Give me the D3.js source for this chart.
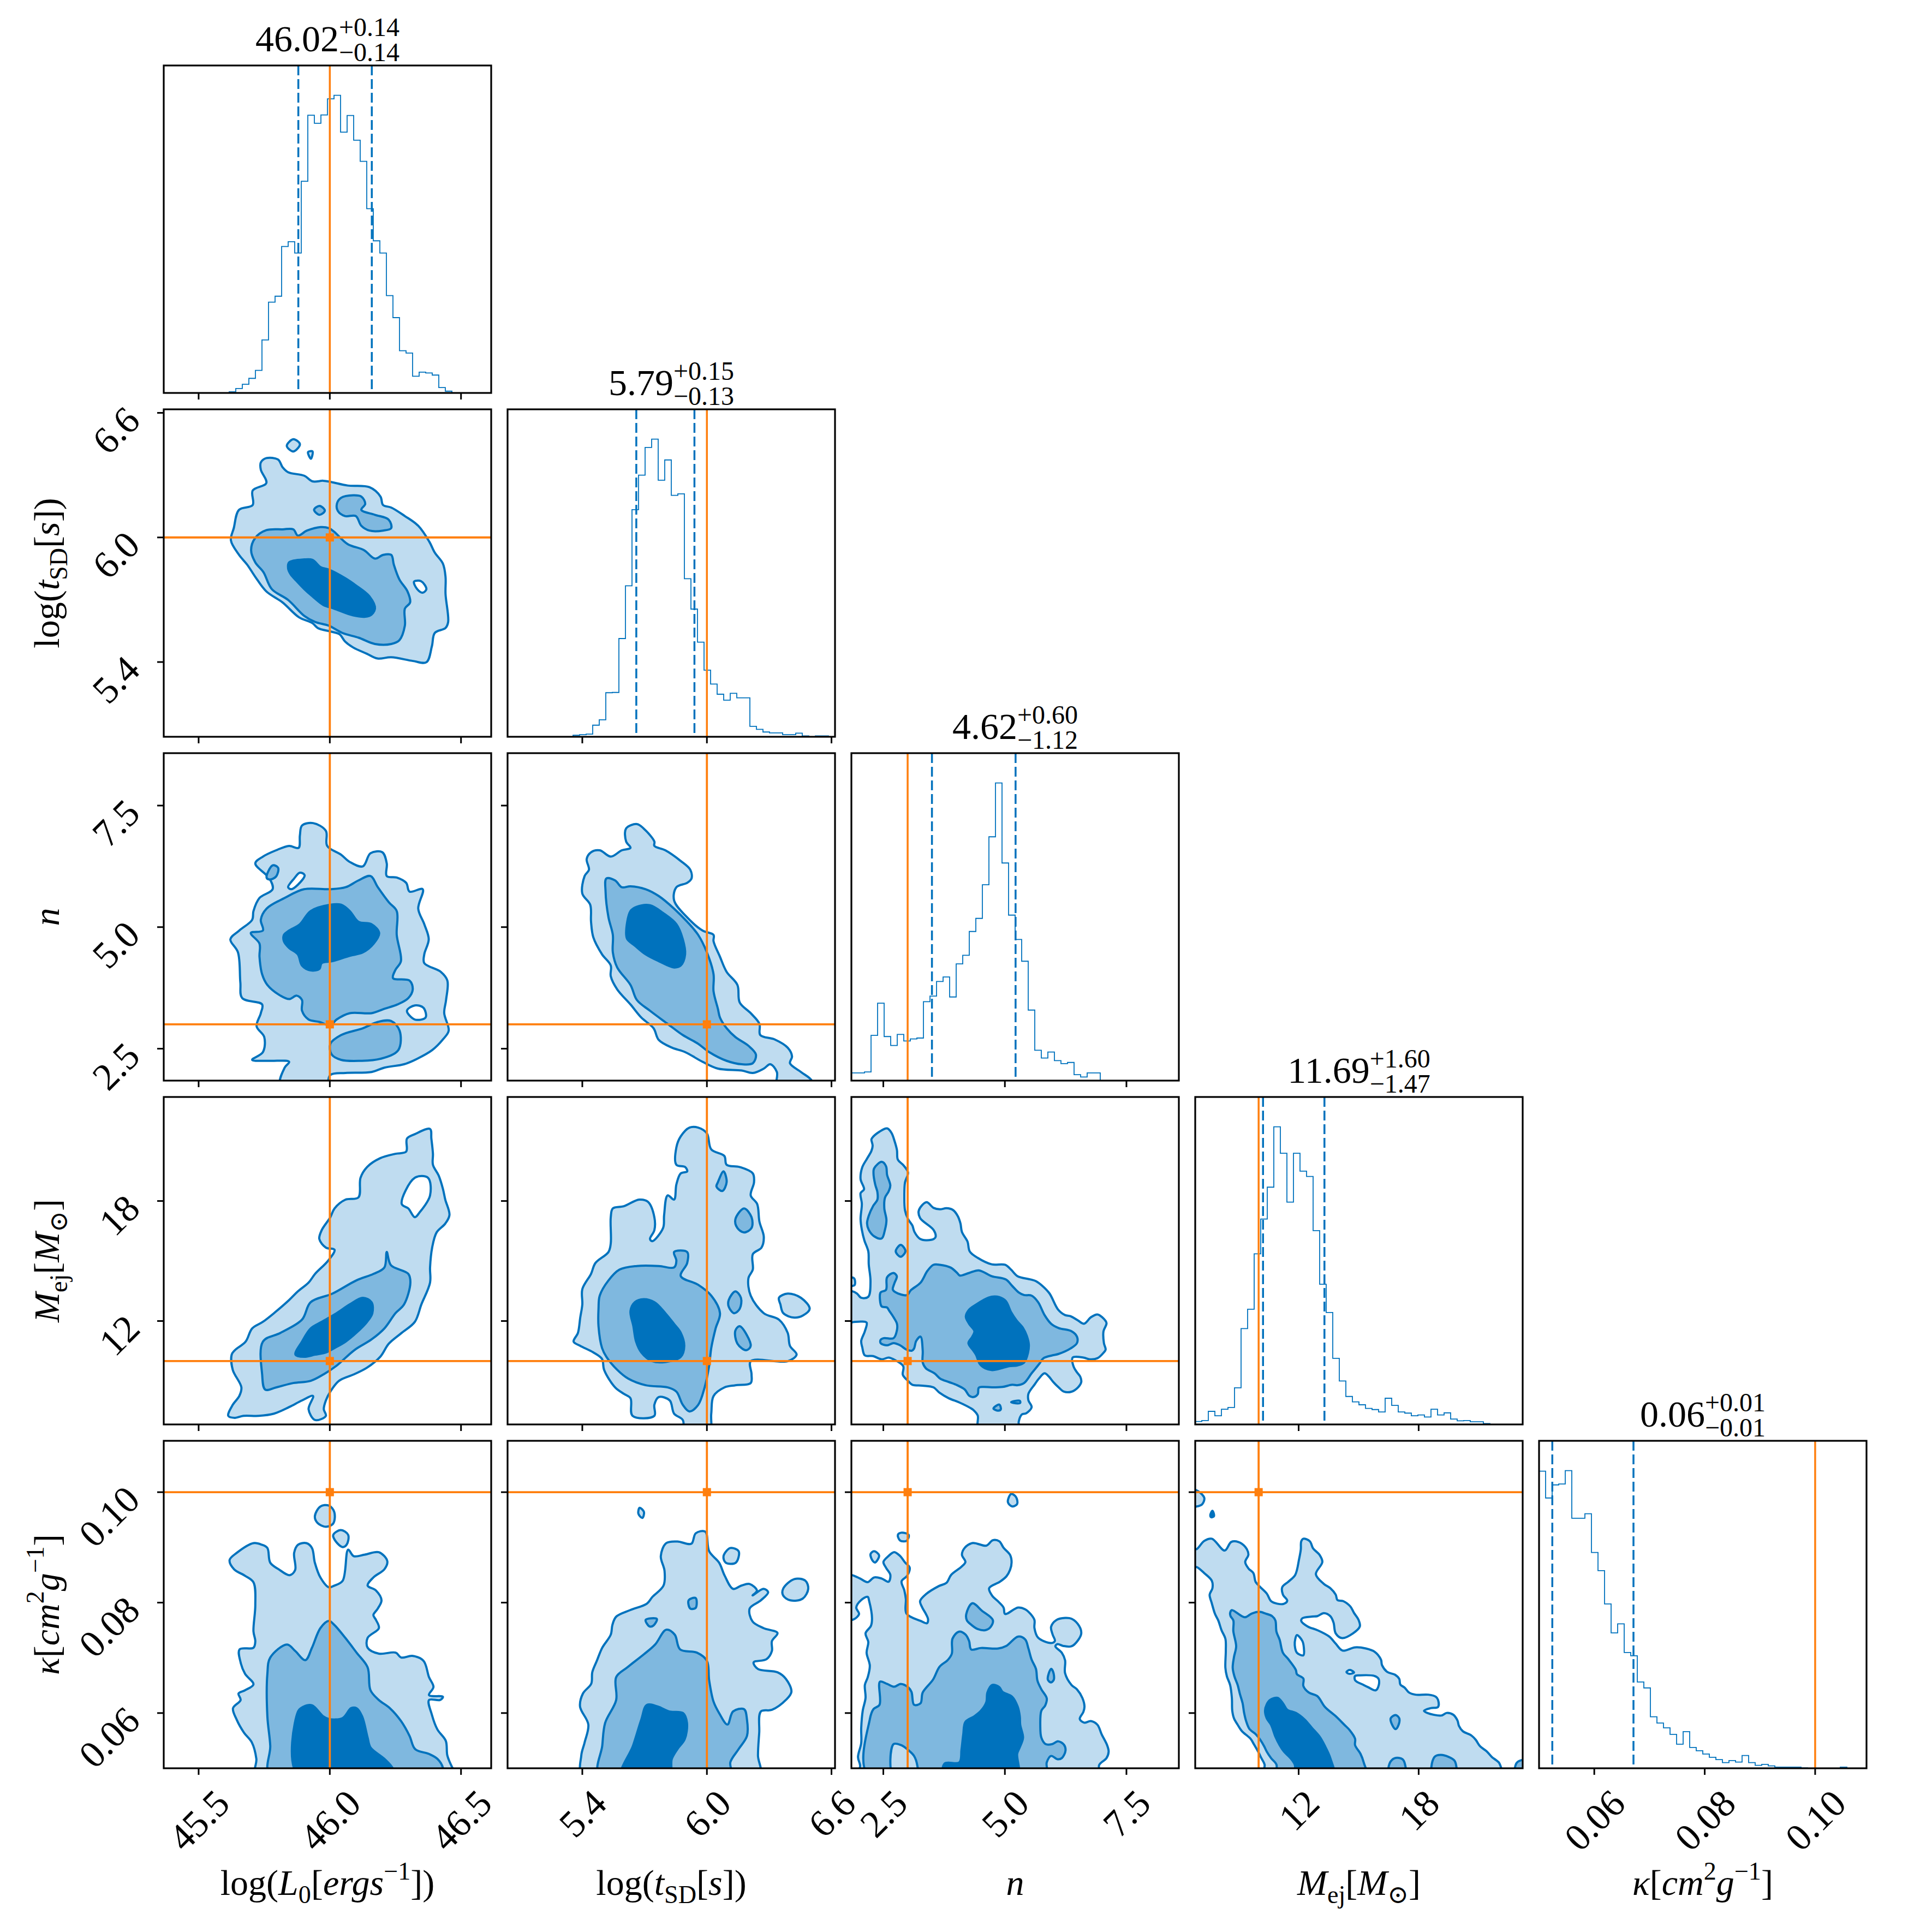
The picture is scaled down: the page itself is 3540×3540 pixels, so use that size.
<!DOCTYPE html>
<html>
<head>
<meta charset="utf-8">
<script src="https://cdn.jsdelivr.net/npm/d3@7"></script>
<style>body{margin:0;background:#fff}</style>
</head>
<body>
<svg id="corner" width="3540" height="3540"></svg>
<script>
// axis limits of each parameter (L0, tSD, n, Mej, kappa)
const ranges = [[45.367, 46.615], [5.04, 6.617], [1.843, 8.578], [6.83, 23.2], [0.05, 0.1093]];
const truths = [46.0, 6.0, 3.0, 10.0, 0.1];
const q16 = [45.88, 5.66, 3.50, 10.22, 0.0524];
const q84 = [46.16, 5.94, 5.22, 13.29, 0.0671];
const medians = ["46.02", "5.79", "4.62", "11.69", "0.06"];
const errPlus = ["+0.14", "+0.15", "+0.60", "+1.60", "+0.01"];
const errMinus = ["\u22120.14", "\u22120.13", "\u22121.12", "\u22121.47", "\u22120.01"];
const tickVals = [[45.5, 46.0, 46.5], [5.4, 6.0, 6.6], [2.5, 5.0, 7.5], [12, 18], [0.06, 0.08, 0.10]];
const tickLabels = [["45.5", "46.0", "46.5"], ["5.4", "6.0", "6.6"], ["2.5", "5.0", "7.5"], ["12", "18"], ["0.06", "0.08", "0.10"]];

// axis labels: [text, position, italic]
const labelL0 = [["log(", "", 0], ["L", "", 1], ["0", "sub", 0], ["[", "", 0], ["ergs", "", 1], ["\u22121", "sup", 0], ["])", "", 0]];
const labelTsd = [["log(", "", 0], ["t", "", 1], ["SD", "sub", 0], ["[", "", 0], ["s", "", 1], ["])", "", 0]];
const labelN = [["n", "", 1]];
const labelMej = [["M", "", 1], ["ej", "sub", 0], ["[", "", 0], ["M", "", 1], ["\u2299", "sub", 0], ["]", "", 0]];
const labelKappa = [["\u03ba", "", 1], ["[", "", 0], ["cm", "", 1], ["2", "sup", 0], ["g", "", 1], ["\u22121", "sup", 0], ["]", "", 0]];

// 1D histograms, 50 bins over each range (relative heights)
const histL0 = [0,0,0,0,0,0,0,0,0,0, 0.4,1.5,2.9,4.9,7.6,17.8,30.5,32.5,49.2,50.8, 47.0,71.1,93.3,90.6,93.4,98.8,100,87.6,93.2,84.9, 77.8,61.9,51.1,47.0,32.7,25.3,14.2,13.4,5.6,7.0, 6.7,6.0,1.8,0.6,0,0,0,0,0,0];
const histTsd = [0,0,0,0,0,0,0,0,0,0, 0.5,0.7,0.9,3.9,5.7,14.8,14.9,33.0,50.7,76.3, 87.9,97.2,100,86.2,93.0,81.1,81.6,53.1,42.9,31.8, 22.4,17.7,14.3,12.3,14.6,13.1,13.1,3.5,2.5,1.6, 1.3,1.3,0.7,0.7,1.2,0.3,0,0.3,0.3,0];
const histN = [2.6,2.6,2.9,15.2,26.0,14.8,11.8,15.5,13.3,14.0, 14.3,26.5,28.4,33.3,34.8,28.1,39.2,42.1,50.1,54.5, 65.8,81.9,100,73.1,55.6,47.4,40.1,23.7,10.2,7.6, 9.6,6.7,5.7,6.1,2.0,1.2,2.6,2.6,0,0, 0,0,0,0,0,0,0,0,0,0];
const histMej = [1.0,1.3,4.4,2.9,5.1,5.7,12.3,32.2,38.7,57.3, 69.0,79.7,100,91.1,74.7,91.1,85.1,83.3,65.1,47.1, 37.6,22.2,14.6,9.4,7.6,6.6,5.4,5.0,4.2,8.8, 6.4,4.2,3.8,2.9,3.2,2.5,5.1,3.2,3.9,1.8, 1.2,1.3,0.9,0.9,0.3,0,0,0,0,0];
const histKappa = [99.8,90.8,95.2,95.5,100,84.0,84.0,85.5,72.5,66.4, 55.2,45.5,48.5,38.9,37.8,29.0,27.0,17.3,15.2,13.6, 11.4,8.1,12.3,7.0,5.9,4.8,3.7,2.9,1.9,2.6, 2.1,4.3,1.9,1.0,1.3,0.8,0.4,0.4,0.4,0.4, 0.1,0,0,0,0,0,0.4,0,0,0];

// 2D credible-region outlines, in data units. lvl: 0 empty, 1 outer, 2 middle, 3 inner
const cTsdL0 = [
  {lvl: 1, pts: [[45.737,6.361],[45.758,6.382],[45.803,6.375],[45.820,6.338],[45.841,6.314],[45.903,6.297],[45.934,6.270],[45.975,6.273],[46.006,6.267],[46.068,6.250],[46.151,6.242],[46.193,6.197],[46.203,6.156],[46.234,6.144],[46.286,6.103],[46.337,6.056],[46.379,5.980],[46.400,5.927],[46.431,5.874],[46.441,5.810],[46.441,5.728],[46.451,5.593],[46.441,5.564],[46.400,5.540],[46.389,5.476],[46.368,5.399],[46.317,5.405],[46.234,5.423],[46.182,5.417],[46.141,5.440],[46.089,5.470],[46.058,5.499],[46.037,5.534],[46.006,5.546],[45.954,5.564],[45.934,5.587],[45.882,5.616],[45.820,5.687],[45.758,5.740],[45.716,5.810],[45.685,5.869],[45.654,5.916],[45.623,5.986],[45.634,6.045],[45.654,6.133],[45.706,6.156],[45.706,6.226],[45.758,6.262],[45.737,6.326]]},
  {lvl: 1, pts: [[45.836,6.441],[45.861,6.473],[45.886,6.449],[45.861,6.414]]},
  {lvl: 1, pts: [[45.917,6.411],[45.934,6.414],[45.928,6.379]]},
  {lvl: 0, pts: [[46.321,5.787],[46.348,5.789],[46.368,5.751],[46.354,5.734],[46.333,5.751]]},
  {lvl: 2, pts: [[45.700,5.939],[45.716,5.998],[45.758,6.035],[45.820,6.039],[45.861,6.039],[45.878,6.009],[45.913,6.033],[45.965,6.050],[45.996,6.045],[46.017,6.027],[46.068,5.968],[46.130,5.939],[46.172,5.898],[46.203,5.916],[46.234,5.916],[46.244,5.869],[46.265,5.798],[46.296,5.740],[46.306,5.687],[46.286,5.657],[46.286,5.575],[46.265,5.505],[46.234,5.487],[46.172,5.487],[46.110,5.517],[46.048,5.540],[45.996,5.575],[45.944,5.593],[45.903,5.622],[45.841,5.699],[45.779,5.751],[45.747,5.833],[45.716,5.880]]},
  {lvl: 2, pts: [[46.027,6.162],[46.043,6.191],[46.089,6.203],[46.120,6.197],[46.135,6.162],[46.120,6.133],[46.172,6.109],[46.224,6.086],[46.234,6.045],[46.203,6.033],[46.151,6.033],[46.120,6.056],[46.099,6.103],[46.058,6.103],[46.031,6.127]]},
  {lvl: 2, pts: [[45.940,6.133],[45.961,6.152],[45.981,6.129],[45.961,6.109]]},
  {lvl: 3, pts: [[45.845,5.880],[45.903,5.894],[45.934,5.892],[45.965,5.857],[45.996,5.845],[46.058,5.804],[46.099,5.769],[46.151,5.716],[46.172,5.657],[46.151,5.622],[46.089,5.625],[46.017,5.657],[45.975,5.675],[45.934,5.716],[45.903,5.751],[45.872,5.792],[45.851,5.822],[45.841,5.851]]}
];

const cNL0 = [
  {lvl: 1, pts: [[45.894,7.09],[45.936,7.14],[45.985,6.98],[45.990,6.67],[46.043,6.49],[46.076,6.34],[46.126,6.25],[46.155,6.52],[46.200,6.54],[46.217,6.31],[46.217,6.05],[46.255,6.02],[46.291,5.91],[46.304,5.73],[46.354,5.78],[46.337,5.38],[46.360,5.06],[46.377,4.75],[46.360,4.44],[46.360,4.26],[46.423,4.08],[46.448,3.90],[46.443,3.50],[46.436,3.23],[46.453,2.87],[46.431,2.69],[46.390,2.47],[46.332,2.29],[46.283,2.18],[46.208,2.11],[46.159,2.02],[46.060,2.00],[46.002,1.96],[45.985,1.76],[45.812,1.76],[45.828,2.11],[45.845,2.23],[45.770,2.25],[45.704,2.27],[45.745,2.43],[45.750,2.74],[45.721,2.96],[45.737,3.23],[45.742,3.41],[45.666,3.54],[45.659,3.86],[45.650,4.48],[45.621,4.75],[45.655,4.93],[45.704,5.15],[45.709,5.33],[45.732,5.60],[45.782,5.78],[45.770,6.00],[45.716,6.31],[45.745,6.45],[45.795,6.58],[45.845,6.67],[45.881,6.63],[45.886,6.89]]},
  {lvl: 0, pts: [[45.841,5.82],[45.864,6.00],[45.886,6.12],[45.904,6.07],[45.878,5.87],[45.853,5.78]]},
  {lvl: 2, pts: [[45.759,6.02],[45.782,6.27],[45.803,6.22],[45.795,6.04],[45.770,5.98]]},
  {lvl: 0, pts: [[46.294,3.28],[46.324,3.39],[46.357,3.34],[46.365,3.14],[46.324,3.10]]},
  {lvl: 2, pts: [[45.699,4.88],[45.745,4.93],[45.737,5.15],[45.759,5.38],[45.828,5.60],[45.902,5.78],[46.002,5.78],[46.060,5.82],[46.109,5.96],[46.155,6.05],[46.183,5.82],[46.225,5.51],[46.255,5.33],[46.255,4.84],[46.271,4.30],[46.250,4.12],[46.241,3.95],[46.304,3.90],[46.316,3.72],[46.299,3.54],[46.258,3.41],[46.208,3.32],[46.159,3.23],[46.076,3.23],[46.026,3.10],[46.002,2.98],[45.960,3.05],[45.919,3.10],[45.894,3.28],[45.894,3.50],[45.874,3.59],[45.845,3.52],[45.812,3.59],[45.762,3.81],[45.742,4.03],[45.732,4.39],[45.732,4.66]]},
  {lvl: 2, pts: [[46.002,2.60],[46.043,2.78],[46.126,2.92],[46.183,3.05],[46.233,3.07],[46.266,2.87],[46.261,2.47],[46.192,2.29],[46.117,2.25],[46.043,2.27],[46.007,2.38]]},
  {lvl: 3, pts: [[45.825,4.84],[45.845,4.93],[45.886,5.06],[45.927,5.33],[46.002,5.46],[46.043,5.46],[46.076,5.33],[46.109,5.11],[46.159,5.06],[46.188,4.88],[46.167,4.66],[46.126,4.48],[46.076,4.41],[46.010,4.30],[45.969,4.26],[45.960,4.14],[45.927,4.11],[45.894,4.21],[45.878,4.44],[45.845,4.57],[45.825,4.71]]}
];

const cNTsd = [
  {lvl: 1, pts: [[5.611,7.03],[5.663,7.12],[5.695,7.03],[5.747,6.76],[5.747,6.67],[5.800,6.58],[5.874,6.36],[5.920,6.18],[5.926,6.00],[5.905,5.91],[5.853,5.82],[5.842,5.55],[5.905,5.20],[5.979,4.93],[6.032,4.84],[6.032,4.71],[6.063,4.39],[6.095,4.08],[6.147,3.81],[6.158,3.45],[6.211,3.23],[6.253,3.01],[6.257,2.78],[6.326,2.69],[6.389,2.52],[6.410,2.34],[6.400,2.20],[6.453,2.02],[6.505,1.84],[6.505,1.62],[6.337,1.62],[6.337,2.02],[6.305,2.18],[6.274,2.09],[6.221,2.00],[6.168,2.05],[6.053,2.09],[5.979,2.23],[5.895,2.43],[5.832,2.52],[5.768,2.68],[5.743,2.92],[5.684,3.14],[5.632,3.41],[5.568,3.72],[5.537,3.99],[5.537,4.21],[5.495,4.44],[5.453,4.79],[5.442,5.11],[5.438,5.46],[5.400,5.69],[5.411,6.05],[5.432,6.18],[5.421,6.40],[5.442,6.54],[5.484,6.58],[5.537,6.45],[5.590,6.58],[5.632,6.63],[5.611,6.76]]},
  {lvl: 2, pts: [[5.516,6.00],[5.558,5.96],[5.590,5.82],[5.632,5.84],[5.705,5.78],[5.768,5.64],[5.842,5.38],[5.905,5.11],[5.958,4.84],[6.000,4.48],[6.032,4.03],[6.032,3.68],[6.053,3.32],[6.063,3.14],[6.095,2.92],[6.137,2.74],[6.200,2.56],[6.236,2.38],[6.221,2.20],[6.168,2.18],[6.095,2.25],[6.011,2.43],[5.958,2.60],[5.884,2.78],[5.811,3.01],[5.726,3.28],[5.663,3.50],[5.632,3.81],[5.568,4.17],[5.547,4.48],[5.547,4.84],[5.526,5.20],[5.512,5.73]]},
  {lvl: 3, pts: [[5.611,4.88],[5.632,5.33],[5.663,5.42],[5.726,5.45],[5.789,5.29],[5.853,5.06],[5.884,4.75],[5.895,4.44],[5.874,4.21],[5.842,4.17],[5.768,4.30],[5.705,4.44],[5.653,4.62],[5.617,4.75]]}
];

const cMejL0 = [
  {lvl: 1, pts: [[45.613,7.26],[45.630,7.81],[45.655,8.25],[45.663,8.68],[45.630,9.56],[45.626,10.32],[45.638,10.54],[45.679,10.97],[45.704,11.63],[45.745,11.96],[45.787,12.39],[45.845,13.05],[45.878,13.48],[45.919,13.92],[45.944,14.36],[45.993,15.01],[46.018,15.56],[45.985,15.67],[45.960,16.10],[45.969,16.54],[46.002,17.19],[46.018,17.63],[46.060,18.07],[46.109,18.18],[46.117,19.16],[46.142,19.70],[46.192,20.14],[46.250,20.36],[46.291,20.47],[46.294,21.12],[46.324,21.34],[46.382,21.60],[46.387,21.12],[46.393,20.36],[46.393,19.81],[46.415,19.27],[46.431,18.61],[46.440,18.07],[46.456,17.30],[46.440,16.87],[46.407,16.43],[46.390,15.67],[46.382,14.68],[46.382,13.92],[46.349,12.83],[46.324,11.96],[46.274,11.41],[46.225,10.87],[46.192,10.21],[46.142,9.67],[46.093,9.34],[46.035,9.01],[46.002,8.47],[45.985,8.03],[45.977,7.59],[45.985,7.26],[45.944,7.05],[45.919,7.59],[45.936,8.25],[45.894,8.03],[45.845,7.70],[45.787,7.37],[45.729,7.26],[45.671,7.26],[45.638,7.16]]},
  {lvl: 0, pts: [[46.274,17.85],[46.324,19.16],[46.374,19.16],[46.382,18.28],[46.341,17.41],[46.324,17.19],[46.299,17.63]]},
  {lvl: 2, pts: [[45.745,10.97],[45.812,11.41],[45.894,12.07],[45.927,12.94],[46.010,13.37],[46.101,14.03],[46.167,14.36],[46.208,14.68],[46.217,15.45],[46.233,14.79],[46.299,14.36],[46.307,13.92],[46.283,12.83],[46.250,12.39],[46.208,11.63],[46.159,11.08],[46.093,10.54],[46.026,9.77],[45.977,9.34],[45.927,9.01],[45.861,8.90],[45.795,8.68],[45.754,8.57],[45.742,9.34]]},
  {lvl: 3, pts: [[45.869,10.32],[45.894,10.97],[45.927,11.63],[45.969,11.96],[46.026,12.39],[46.076,12.83],[46.126,13.16],[46.159,12.94],[46.162,12.39],[46.142,11.96],[46.101,11.41],[46.060,10.97],[46.018,10.65],[45.985,10.43],[45.944,10.32],[45.902,10.21]]}
];

const cMejTsd = [
  {lvl: 1, pts: [[5.958,21.67],[6.000,21.38],[6.021,20.58],[6.084,20.25],[6.095,19.81],[6.158,19.70],[6.221,19.38],[6.227,18.94],[6.211,18.28],[6.242,17.85],[6.253,16.97],[6.274,16.21],[6.263,15.67],[6.221,15.34],[6.221,14.57],[6.200,14.14],[6.211,13.27],[6.274,12.39],[6.347,12.07],[6.389,11.41],[6.400,10.76],[6.432,10.32],[6.389,9.99],[6.211,9.99],[6.215,9.34],[6.211,8.90],[6.137,8.79],[6.084,8.68],[6.032,8.25],[6.021,7.37],[6.011,6.28],[5.895,6.28],[5.884,7.05],[5.842,7.37],[5.821,8.03],[5.768,8.20],[5.747,7.81],[5.747,7.26],[5.642,7.26],[5.632,8.14],[5.600,8.36],[5.558,8.68],[5.505,9.56],[5.495,10.10],[5.453,10.43],[5.390,10.76],[5.358,10.97],[5.379,11.41],[5.390,12.17],[5.400,12.83],[5.400,13.59],[5.442,14.36],[5.463,14.90],[5.526,15.45],[5.537,15.88],[5.537,17.19],[5.547,17.63],[5.600,17.74],[5.674,18.07],[5.716,17.96],[5.747,17.19],[5.747,16.54],[5.726,16.10],[5.737,15.99],[5.789,16.65],[5.794,17.30],[5.811,18.28],[5.842,18.07],[5.853,18.83],[5.874,19.38],[5.905,19.48],[5.895,19.70],[5.853,19.81],[5.853,20.68],[5.874,21.23],[5.916,21.67]]},
  {lvl: 1, pts: [[6.347,13.16],[6.389,13.37],[6.453,13.16],[6.495,12.61],[6.463,12.28],[6.421,12.17],[6.368,12.39],[6.354,12.83]]},
  {lvl: 2, pts: [[5.484,13.27],[5.526,14.03],[5.579,14.57],[5.663,14.75],[5.768,14.75],[5.842,14.68],[5.853,15.01],[5.842,15.45],[5.905,15.45],[5.905,14.90],[5.874,14.25],[5.958,13.81],[6.021,13.27],[6.063,12.39],[6.042,11.63],[6.021,10.65],[6.011,9.77],[5.989,8.68],[5.958,7.81],[5.916,7.48],[5.884,7.81],[5.853,8.47],[5.811,8.68],[5.705,8.79],[5.621,9.12],[5.568,9.56],[5.516,10.21],[5.495,10.65],[5.478,11.74],[5.478,12.61]]},
  {lvl: 2, pts: [[6.053,18.94],[6.080,19.48],[6.095,18.94],[6.074,18.50],[6.046,18.72]]},
  {lvl: 2, pts: [[6.137,17.08],[6.179,17.63],[6.215,17.19],[6.215,16.65],[6.179,16.43],[6.147,16.65]]},
  {lvl: 2, pts: [[6.105,13.05],[6.137,13.48],[6.164,13.16],[6.158,12.61],[6.131,12.39],[6.105,12.72]]},
  {lvl: 2, pts: [[6.137,11.52],[6.158,11.74],[6.211,10.76],[6.189,10.54],[6.147,10.87]]},
  {lvl: 3, pts: [[5.632,12.50],[5.653,12.94],[5.695,13.09],[5.747,12.94],[5.800,12.39],[5.842,11.85],[5.874,11.41],[5.891,10.76],[5.874,10.21],[5.800,9.95],[5.737,9.99],[5.684,10.43],[5.659,10.97],[5.646,11.74]]}
];

const cMejN = [
  {lvl: 1, pts: [[2.254,21.068],[2.267,21.144],[2.422,21.467],[2.577,21.629],[2.666,21.413],[2.733,20.982],[2.780,20.551],[2.799,20.065],[2.910,19.795],[3.008,19.418],[2.946,18.932],[2.932,18.285],[2.946,17.530],[3.008,17.099],[3.097,16.775],[3.141,16.451],[3.256,16.106],[3.376,16.041],[3.540,16.106],[3.576,16.214],[3.531,16.559],[3.256,17.152],[3.230,17.530],[3.389,17.940],[3.531,17.659],[3.664,17.584],[3.798,17.638],[3.931,17.552],[4.028,17.260],[4.086,16.883],[4.117,16.451],[4.232,15.966],[4.277,15.480],[4.441,15.157],[4.729,14.833],[5.004,14.811],[5.129,14.563],[5.262,14.240],[5.528,14.078],[5.639,13.992],[5.772,13.754],[5.918,13.377],[6.096,12.568],[6.238,12.298],[6.349,12.244],[6.504,12.028],[6.628,11.866],[6.770,12.190],[6.903,12.330],[7.001,12.190],[7.090,11.899],[7.028,11.489],[7.037,10.895],[7.072,10.572],[7.028,10.410],[6.903,10.140],[6.748,10.086],[6.615,10.173],[6.393,10.173],[6.415,9.709],[6.482,9.439],[6.549,9.223],[6.571,8.954],[6.504,8.684],[6.371,8.468],[6.216,8.468],[6.105,8.684],[5.994,8.954],[5.905,9.223],[5.816,9.385],[5.697,9.115],[5.617,8.846],[5.484,8.360],[5.484,8.037],[5.550,7.691],[5.439,7.389],[5.351,7.335],[5.284,6.958],[5.284,6.634],[4.463,6.634],[4.441,7.281],[4.352,7.551],[4.286,7.659],[4.064,7.929],[3.842,8.144],[3.656,8.414],[3.531,8.684],[3.310,8.770],[3.097,8.813],[3.008,9.007],[2.901,9.310],[2.910,9.741],[2.711,10.086],[2.609,10.173],[2.466,10.086],[2.289,10.248],[2.120,10.280],[2.067,10.680],[2.045,11.003],[2.120,11.489],[2.156,11.920],[2.045,11.974],[1.867,11.942],[1.801,11.942],[1.801,13.485],[1.867,13.485],[1.956,13.377],[2.045,13.161],[2.191,13.215],[2.236,13.970],[2.200,14.833],[2.191,15.480],[2.111,16.020],[2.058,16.559],[2.032,17.099],[2.058,17.854],[2.032,18.393],[2.103,18.587],[2.032,19.094],[2.067,19.688],[2.165,20.119],[2.254,20.497],[2.280,20.766]]},
  {lvl: 1, pts: [[1.801,14.164],[1.899,14.132],[1.912,13.808],[1.867,13.754],[1.801,13.754]]},
  {lvl: 2, pts: [[2.311,19.634],[2.466,19.957],[2.555,19.741],[2.577,19.310],[2.644,18.771],[2.609,18.479],[2.533,18.156],[2.520,17.638],[2.564,17.045],[2.533,16.559],[2.466,16.128],[2.311,16.236],[2.200,16.559],[2.165,16.883],[2.200,17.260],[2.289,17.746],[2.378,18.069],[2.378,18.447],[2.333,18.825],[2.298,19.364]]},
  {lvl: 2, pts: [[2.755,15.480],[2.857,15.804],[2.955,15.502],[2.857,15.211]]},
  {lvl: 2, pts: [[2.444,13.431],[2.555,13.560],[2.577,14.186],[2.710,14.402],[2.777,14.240],[2.724,13.862],[2.697,13.560],[2.866,13.323],[2.990,13.301],[3.065,13.538],[3.265,13.916],[3.407,14.509],[3.531,14.811],[3.664,14.811],[3.886,14.671],[4.019,14.402],[4.073,14.272],[4.263,14.402],[4.463,14.531],[4.729,14.240],[5.018,14.078],[5.151,13.754],[5.284,13.431],[5.395,13.301],[5.550,13.269],[5.683,12.945],[5.816,12.298],[5.950,11.866],[6.105,11.651],[6.371,11.489],[6.482,11.219],[6.482,10.895],[6.349,10.626],[6.105,10.356],[5.972,10.280],[5.794,10.140],[5.705,9.849],[5.550,9.385],[5.395,8.900],[5.262,8.792],[5.151,8.813],[4.951,8.705],[4.729,8.684],[4.552,8.705],[4.463,8.662],[4.441,8.339],[4.352,8.198],[4.263,8.274],[4.175,8.576],[4.019,8.792],[3.842,8.954],[3.673,9.115],[3.553,9.385],[3.376,9.633],[3.310,9.924],[3.310,10.518],[3.265,11.219],[3.176,11.003],[3.132,10.626],[3.088,10.518],[2.977,10.572],[2.844,10.788],[2.710,10.895],[2.577,10.788],[2.444,10.895],[2.444,11.057],[2.511,11.144],[2.710,11.144],[2.780,11.543],[2.780,11.866],[2.710,12.190],[2.621,12.514],[2.577,12.675],[2.466,12.729],[2.431,13.053]]},
  {lvl: 2, pts: [[4.765,7.627],[4.885,7.821],[4.916,7.584],[4.862,7.519]]},
  {lvl: 2, pts: [[5.129,7.950],[5.306,8.015],[5.315,7.907],[5.173,7.907]]},
  {lvl: 3, pts: [[4.197,12.222],[4.263,12.568],[4.397,12.805],[4.561,13.053],[4.729,13.215],[4.885,13.193],[5.018,12.999],[5.129,12.438],[5.240,12.028],[5.373,11.651],[5.448,11.273],[5.492,10.841],[5.475,10.410],[5.395,9.924],[5.262,9.784],[5.084,9.741],[4.951,9.655],[4.738,9.547],[4.596,9.633],[4.485,9.849],[4.410,10.302],[4.352,10.518],[4.250,10.895],[4.330,11.219],[4.374,11.489],[4.263,11.866]]}
];

const cKappaL0 = [
  {lvl: 1, pts: [[45.618,0.08770],[45.645,0.08900],[45.709,0.09077],[45.741,0.09048],[45.762,0.08989],[45.773,0.08722],[45.805,0.08604],[45.847,0.08497],[45.868,0.08592],[45.864,0.08900],[45.879,0.09048],[45.911,0.09077],[45.932,0.08989],[45.943,0.08722],[45.964,0.08456],[45.996,0.08278],[46.017,0.08308],[46.049,0.08397],[46.070,0.08959],[46.091,0.08841],[46.134,0.08870],[46.187,0.08912],[46.219,0.08752],[46.208,0.08604],[46.166,0.08456],[46.144,0.08308],[46.176,0.08219],[46.197,0.08041],[46.183,0.07893],[46.166,0.07775],[46.176,0.07686],[46.187,0.07538],[46.144,0.07361],[46.144,0.07183],[46.187,0.07076],[46.251,0.07094],[46.272,0.07005],[46.314,0.07035],[46.357,0.06946],[46.378,0.06650],[46.395,0.06473],[46.378,0.06325],[46.431,0.06295],[46.420,0.06236],[46.378,0.06236],[46.389,0.05969],[46.410,0.05703],[46.442,0.05496],[46.448,0.05229],[46.467,0.05010],[46.484,0.04874],[45.720,0.04874],[45.720,0.05170],[45.703,0.05466],[45.673,0.05644],[45.645,0.05881],[45.631,0.06088],[45.660,0.06236],[45.652,0.06354],[45.677,0.06413],[45.709,0.06520],[45.677,0.06709],[45.660,0.06917],[45.656,0.07153],[45.709,0.07183],[45.716,0.07301],[45.709,0.07479],[45.716,0.07953],[45.709,0.08367],[45.677,0.08485],[45.635,0.08604]]},
  {lvl: 1, pts: [[45.943,0.09563],[45.964,0.09740],[45.996,0.09758],[46.017,0.09640],[46.013,0.09433],[45.985,0.09373],[45.953,0.09444]]},
  {lvl: 1, pts: [[46.013,0.09225],[46.042,0.09314],[46.070,0.09225],[46.064,0.09048],[46.049,0.09006],[46.023,0.09107]]},
  {lvl: 2, pts: [[45.773,0.04874],[45.773,0.05407],[45.762,0.05940],[45.762,0.06709],[45.773,0.07005],[45.837,0.07242],[45.868,0.07124],[45.907,0.06958],[45.932,0.07183],[45.964,0.07538],[45.996,0.07668],[46.017,0.07597],[46.059,0.07361],[46.102,0.07094],[46.144,0.06828],[46.155,0.06413],[46.187,0.06236],[46.229,0.06088],[46.272,0.05851],[46.304,0.05585],[46.325,0.05348],[46.378,0.05259],[46.410,0.05170],[46.431,0.05010],[46.431,0.04874]]},
  {lvl: 3, pts: [[45.879,0.04874],[45.879,0.06029],[45.900,0.06117],[45.932,0.06141],[45.975,0.05940],[45.996,0.05892],[46.049,0.05910],[46.081,0.06088],[46.102,0.06088],[46.123,0.05940],[46.144,0.05555],[46.155,0.05377],[46.208,0.05170],[46.240,0.04993],[46.240,0.04874]]}
];

const cKappaTsd = [
  {lvl: 1, pts: [[5.403,0.04874],[5.395,0.05229],[5.411,0.05466],[5.429,0.05792],[5.389,0.06117],[5.403,0.06354],[5.443,0.06532],[5.448,0.06739],[5.470,0.06946],[5.496,0.07183],[5.537,0.07420],[5.545,0.07597],[5.563,0.07745],[5.630,0.07864],[5.711,0.07982],[5.737,0.08101],[5.791,0.08308],[5.796,0.08574],[5.778,0.08841],[5.804,0.09077],[5.858,0.09107],[5.925,0.09066],[5.946,0.09255],[5.992,0.09285],[6.011,0.08929],[6.059,0.08722],[6.086,0.08485],[6.126,0.08249],[6.166,0.08308],[6.206,0.08337],[6.241,0.08219],[6.220,0.08130],[6.273,0.08249],[6.295,0.08189],[6.260,0.08041],[6.206,0.07893],[6.220,0.07657],[6.273,0.07538],[6.340,0.07449],[6.313,0.07301],[6.313,0.07124],[6.287,0.06976],[6.225,0.06917],[6.246,0.06798],[6.340,0.06739],[6.380,0.06621],[6.407,0.06384],[6.380,0.06236],[6.313,0.06058],[6.260,0.06029],[6.252,0.05644],[6.246,0.05229],[6.252,0.04874]]},
  {lvl: 1, pts: [[6.080,0.08841],[6.113,0.08989],[6.153,0.08929],[6.139,0.08722],[6.091,0.08722]]},
  {lvl: 1, pts: [[6.367,0.08249],[6.421,0.08426],[6.474,0.08397],[6.488,0.08249],[6.461,0.08071],[6.402,0.08041],[6.367,0.08130]]},
  {lvl: 1, pts: [[5.676,0.09717],[5.697,0.09640],[5.689,0.09533],[5.670,0.09610]]},
  {lvl: 2, pts: [[5.912,0.08041],[5.946,0.08083],[5.946,0.07905],[5.920,0.07893]]},
  {lvl: 2, pts: [[5.705,0.07686],[5.759,0.07704],[5.743,0.07586],[5.724,0.07568]]},
  {lvl: 2, pts: [[5.483,0.04874],[5.496,0.05407],[5.510,0.05822],[5.563,0.06236],[5.563,0.06650],[5.617,0.06828],[5.697,0.07065],[5.751,0.07242],[5.804,0.07509],[5.845,0.07420],[5.871,0.07153],[5.952,0.07094],[6.000,0.06946],[6.011,0.06591],[6.032,0.06206],[6.059,0.05999],[6.099,0.05792],[6.126,0.06029],[6.179,0.06070],[6.193,0.05881],[6.193,0.05585],[6.153,0.05348],[6.113,0.05111],[6.113,0.04874]]},
  {lvl: 3, pts: [[5.590,0.04874],[5.644,0.05407],[5.684,0.05881],[5.711,0.06147],[5.764,0.06117],[5.818,0.06029],[5.885,0.05999],[5.904,0.05822],[5.893,0.05526],[5.858,0.05348],[5.831,0.05170],[5.818,0.04874]]}
];

const cKappaN = [
  {lvl: 1, pts: [[1.801,0.08502],[1.867,0.08495],[2.023,0.08436],[2.178,0.08370],[2.311,0.08456],[2.466,0.08436],[2.608,0.08378],[2.644,0.08502],[2.555,0.08631],[2.502,0.08736],[2.608,0.08845],[2.724,0.08915],[2.844,0.08845],[2.946,0.08728],[3.043,0.08631],[2.990,0.08487],[2.875,0.08386],[2.932,0.08222],[2.963,0.08066],[2.977,0.07801],[3.265,0.07669],[3.398,0.07626],[3.420,0.07696],[3.376,0.07794],[3.301,0.07910],[3.256,0.08027],[3.376,0.08152],[3.642,0.08300],[3.798,0.08358],[3.895,0.08502],[4.108,0.08650],[4.188,0.08736],[4.117,0.08865],[4.175,0.08993],[4.339,0.09079],[4.618,0.09032],[4.752,0.09130],[4.885,0.09110],[4.973,0.08993],[5.106,0.08865],[5.138,0.08728],[5.106,0.08592],[5.031,0.08475],[4.898,0.08378],[4.676,0.08261],[4.738,0.08125],[4.854,0.08027],[4.973,0.07910],[5.004,0.07794],[5.271,0.07910],[5.417,0.07879],[5.528,0.07794],[5.608,0.07685],[5.608,0.07540],[5.683,0.07365],[5.950,0.07268],[6.029,0.07307],[5.981,0.07424],[5.950,0.07560],[6.060,0.07685],[6.238,0.07723],[6.371,0.07708],[6.526,0.07579],[6.571,0.07443],[6.504,0.07318],[6.371,0.07209],[6.194,0.07217],[6.083,0.07248],[6.038,0.07209],[6.171,0.07092],[6.238,0.06956],[6.238,0.06722],[6.371,0.06508],[6.482,0.06430],[6.593,0.06275],[6.637,0.06119],[6.615,0.06021],[6.540,0.05893],[6.628,0.05827],[6.770,0.05854],[6.903,0.05788],[6.992,0.05612],[7.103,0.05418],[7.134,0.05301],[7.090,0.05184],[6.939,0.05059],[6.926,0.0485],[2.001,0.0485],[2.023,0.05048],[1.979,0.05203],[2.045,0.05456],[2.045,0.05729],[2.076,0.06041],[2.134,0.06275],[2.120,0.06508],[2.178,0.06645],[2.222,0.06859],[2.156,0.07092],[2.191,0.07287],[2.134,0.07443],[2.245,0.07579],[2.267,0.07716],[2.209,0.08027],[2.178,0.08105],[2.045,0.08047],[1.943,0.07910],[2.001,0.07794],[1.890,0.07696],[1.801,0.07696]]},
  {lvl: 1, pts: [[2.236,0.08876],[2.311,0.08931],[2.413,0.08853],[2.333,0.08728],[2.289,0.08748]]},
  {lvl: 1, pts: [[2.799,0.09227],[2.866,0.09266],[3.021,0.09227],[2.977,0.09118],[2.844,0.09126]]},
  {lvl: 1, pts: [[5.062,0.09819],[5.129,0.09967],[5.226,0.09916],[5.253,0.09788],[5.151,0.09741]]},
  {lvl: 2, pts: [[4.206,0.07794],[4.330,0.07988],[4.530,0.07852],[4.752,0.07685],[4.707,0.07560],[4.596,0.07501],[4.441,0.07521],[4.308,0.07599],[4.219,0.07677]]},
  {lvl: 2, pts: [[5.883,0.06606],[5.950,0.06800],[5.994,0.06742],[6.007,0.06606],[5.950,0.06555]]},
  {lvl: 2, pts: [[2.200,0.0485],[2.222,0.05885],[2.298,0.06072],[2.422,0.06150],[2.431,0.06567],[2.577,0.06528],[2.724,0.06477],[2.857,0.06528],[3.008,0.06469],[3.079,0.06384],[3.132,0.06150],[3.265,0.06177],[3.310,0.06372],[3.522,0.06606],[3.656,0.06839],[3.820,0.06956],[3.908,0.07073],[3.922,0.07346],[4.055,0.07474],[4.188,0.07424],[4.263,0.07307],[4.308,0.07151],[4.507,0.07178],[4.862,0.07170],[5.031,0.07217],[5.271,0.07385],[5.417,0.07334],[5.484,0.07170],[5.550,0.06968],[5.639,0.06800],[5.670,0.06586],[5.750,0.06430],[5.861,0.06267],[5.830,0.06138],[5.750,0.06041],[5.728,0.05768],[5.750,0.05554],[5.839,0.05437],[5.972,0.05437],[6.096,0.05488],[6.216,0.05425],[6.247,0.05320],[6.171,0.05184],[6.083,0.05164],[5.950,0.05223],[5.861,0.05106],[5.839,0.0485]]},
  {lvl: 1, pts: [[2.710,0.0485],[2.710,0.05437],[2.866,0.05418],[2.999,0.05340],[3.132,0.05223],[3.199,0.05048],[3.199,0.0485]]},
  {lvl: 3, pts: [[3.753,0.0485],[3.762,0.05087],[4.064,0.05106],[4.108,0.05340],[4.144,0.05612],[4.188,0.05838],[4.374,0.05943],[4.507,0.06041],[4.618,0.06197],[4.641,0.06372],[4.738,0.06508],[4.885,0.06469],[4.951,0.06384],[5.151,0.06294],[5.262,0.06119],[5.306,0.05943],[5.315,0.05788],[5.373,0.05554],[5.306,0.05379],[5.253,0.05262],[5.253,0.0485]]}
];

const cKappaMej = [
  {lvl: 1, pts: [[6.743,0.08970],[6.905,0.08970],[7.282,0.09118],[7.659,0.09157],[8.305,0.08943],[8.628,0.09098],[8.984,0.09098],[9.329,0.09009],[9.490,0.08872],[9.329,0.08736],[9.490,0.08619],[9.738,0.08534],[9.846,0.08378],[10.029,0.08300],[10.406,0.08164],[10.621,0.08027],[10.923,0.07981],[11.246,0.07977],[11.429,0.08035],[11.214,0.08144],[11.181,0.08280],[11.483,0.08378],[11.828,0.08502],[12.022,0.08787],[12.108,0.08962],[12.129,0.09110],[12.237,0.09157],[12.560,0.09110],[12.722,0.08982],[13.045,0.08865],[13.185,0.08736],[12.862,0.08514],[13.260,0.08339],[13.583,0.08261],[13.853,0.08144],[13.939,0.08047],[14.230,0.08027],[14.585,0.07930],[14.768,0.07813],[14.984,0.07696],[15.059,0.07568],[14.715,0.07443],[14.176,0.07357],[13.853,0.07443],[13.745,0.07638],[13.583,0.07755],[13.260,0.07809],[12.937,0.07755],[12.668,0.07747],[12.183,0.07716],[12.129,0.07669],[12.452,0.07568],[12.937,0.07501],[13.530,0.07385],[13.853,0.07256],[14.198,0.07131],[14.822,0.07190],[15.361,0.07170],[15.792,0.07112],[16.115,0.06968],[16.169,0.06867],[16.438,0.06742],[16.815,0.06695],[17.031,0.06617],[17.084,0.06516],[17.300,0.06461],[17.515,0.06372],[17.838,0.06333],[18.485,0.06333],[18.862,0.06294],[18.970,0.06236],[18.970,0.06111],[18.593,0.06088],[18.269,0.06041],[18.431,0.06002],[19.131,0.05955],[19.400,0.06002],[19.724,0.05971],[19.939,0.05866],[20.014,0.05768],[20.208,0.05671],[20.639,0.05593],[20.854,0.05515],[21.070,0.05398],[21.393,0.05309],[21.662,0.05203],[21.877,0.05145],[22.039,0.05087],[22.093,0.0485],[10.298,0.0485],[10.298,0.05067],[10.136,0.05184],[9.975,0.05301],[9.759,0.05437],[9.598,0.05534],[9.167,0.05671],[8.951,0.05788],[8.768,0.05904],[8.682,0.06041],[8.661,0.06275],[8.575,0.06508],[8.413,0.06664],[8.338,0.06820],[8.359,0.07131],[8.338,0.07346],[8.144,0.07501],[7.982,0.07677],[7.820,0.07794],[7.659,0.07988],[7.551,0.08144],[7.691,0.08261],[7.659,0.08397],[7.282,0.08534],[6.905,0.08643],[6.743,0.08643]]},
  {lvl: 1, pts: [[6.743,0.10033],[6.905,0.10033],[7.282,0.09897],[7.174,0.09780],[6.905,0.09741],[6.743,0.09741]]},
  {lvl: 3, pts: [[7.584,0.09585],[7.691,0.09663],[7.767,0.09566],[7.627,0.09546]]},
  {lvl: 0, pts: [[11.828,0.07334],[11.914,0.07412],[12.183,0.07307],[12.259,0.07190],[12.237,0.07046],[11.914,0.07092],[11.806,0.07229]]},
  {lvl: 0, pts: [[14.822,0.06672],[15.038,0.06683],[15.792,0.06672],[15.986,0.06625],[16.007,0.06508],[15.846,0.06411],[15.469,0.06469],[15.253,0.06508],[14.822,0.06594]]},
  {lvl: 0, pts: [[14.391,0.06742],[14.553,0.06781],[14.768,0.06734],[14.521,0.06711]]},
  {lvl: 2, pts: [[16.600,0.05904],[16.848,0.05963],[17.031,0.05904],[16.998,0.05788],[16.848,0.05710],[16.675,0.05788]]},
  {lvl: 2, pts: [[16.546,0.0485],[16.546,0.05087],[16.815,0.05184],[17.192,0.05164],[17.321,0.05067],[17.321,0.0485]]},
  {lvl: 2, pts: [[18.700,0.0485],[18.786,0.05203],[19.131,0.05242],[19.777,0.05145],[19.885,0.05028],[19.885,0.0485]]},
  {lvl: 2, pts: [[22.847,0.0485],[22.879,0.05087],[23.116,0.05145],[23.44,0.05145],[23.44,0.0485]]},
  {lvl: 2, pts: [[8.575,0.07813],[8.661,0.07864],[9.307,0.07735],[9.652,0.07801],[10.029,0.07833],[10.352,0.07801],[10.675,0.07755],[10.837,0.07677],[10.891,0.07474],[11.052,0.07326],[11.214,0.07092],[11.483,0.06976],[11.860,0.06781],[11.914,0.06703],[12.237,0.06625],[12.237,0.06489],[12.506,0.06372],[12.937,0.06306],[13.314,0.06111],[13.853,0.05943],[14.284,0.05788],[14.553,0.05690],[14.822,0.05534],[14.822,0.05418],[15.092,0.05262],[15.253,0.05106],[15.361,0.0485],[10.944,0.0485],[10.891,0.05067],[10.621,0.05184],[10.406,0.05301],[10.276,0.05398],[10.083,0.05515],[9.867,0.05612],[9.544,0.05710],[9.382,0.05846],[9.275,0.06002],[9.199,0.06177],[9.059,0.06352],[8.951,0.06508],[8.790,0.06664],[8.704,0.06820],[8.768,0.07015],[8.876,0.07209],[8.736,0.07482],[8.736,0.07677],[8.596,0.07755]]},
  {lvl: 3, pts: [[10.320,0.06041],[10.406,0.06158],[10.567,0.06236],[10.944,0.06275],[11.214,0.06177],[11.429,0.06060],[11.860,0.06002],[12.291,0.05885],[12.668,0.05729],[13.045,0.05573],[13.293,0.05418],[13.583,0.05184],[13.745,0.0485],[11.914,0.0485],[11.806,0.05067],[11.591,0.05184],[11.268,0.05301],[11.052,0.05418],[10.837,0.05573],[10.621,0.05788],[10.406,0.05904]]}
];

const labels = [labelL0, labelTsd, labelN, labelMej, labelKappa];
const hists = [histL0, histTsd, histN, histMej, histKappa];
const contours = {
  "1-0": cTsdL0, "2-0": cNL0, "2-1": cNTsd,
  "3-0": cMejL0, "3-1": cMejTsd, "3-2": cMejN,
  "4-0": cKappaL0, "4-1": cKappaTsd, "4-2": cKappaN, "4-3": cKappaMej
};

// layout
const P = 600, STEP = 630, X0 = 300, Y0 = 120;
const blue = "#0072bd", orange = "#ff7f0e";
const fills = ["#ffffff", "#bfdcf0", "#7fb8df", "#0072bd"];
const font = "'Liberation Serif', 'DejaVu Serif', serif";
const tickFs = 70, labelFs = 66;

const svg = d3.select("#corner");
svg.append("rect").attr("width", 3540).attr("height", 3540).attr("fill", "#fff");

const xS = ranges.map(r => d3.scaleLinear().domain(r).range([0, P]));
const yS = ranges.map(r => d3.scaleLinear().domain(r).range([P, 0]));
const K = ranges.length;

function richText(sel, parts, fs) {
  let shift = 0;
  parts.forEach(p => {
    const target = p[1] === "sub" ? 0.22 * fs : p[1] === "sup" ? -0.42 * fs : 0;
    const ts = sel.append("tspan").text(p[0]).attr("dy", target - shift);
    shift = target;
    if (p[1]) ts.attr("font-size", fs * 0.7);
    if (p[2]) ts.attr("font-style", "italic");
  });
}

for (let i = 0; i < K; i++) {
  for (let j = 0; j <= i; j++) {
    const g = svg.append("g").attr("transform", `translate(${X0 + j * STEP},${Y0 + i * STEP})`);
    const cid = `clip-${i}-${j}`;
    g.append("clipPath").attr("id", cid).append("rect").attr("width", P).attr("height", P);
    const body = g.append("g").attr("clip-path", `url(#${cid})`);
    const xs = xS[j];

    if (i === j) {
      const h = hists[i], r = ranges[i], nb = h.length;
      const edges = d3.range(nb + 1).map(k => r[0] + k * (r[1] - r[0]) / nb);
      const hy = d3.scaleLinear().domain([0, 1.1 * d3.max(h)]).range([P, 0]);
      const pts = [[edges[0], 0]];
      h.forEach((v, k) => { pts.push([edges[k], v], [edges[k + 1], v]); });
      pts.push([edges[nb], 0]);
      body.append("path")
        .attr("d", d3.line().x(d => xs(d[0])).y(d => hy(d[1]))(pts))
        .attr("fill", "none").attr("stroke", blue).attr("stroke-width", 1.8);
      [q16[i], q84[i]].forEach(q => {
        body.append("line").attr("x1", xs(q)).attr("x2", xs(q)).attr("y1", 0).attr("y2", P)
          .attr("stroke", blue).attr("stroke-width", 3.5).attr("stroke-dasharray", "18,7");
      });
      body.append("line").attr("x1", xs(truths[i])).attr("x2", xs(truths[i])).attr("y1", 0).attr("y2", P)
        .attr("stroke", orange).attr("stroke-width", 3.5);

      // title: median with errors
      const tg = g.append("g").attr("font-family", font).attr("fill", "#000");
      const tMain = tg.append("text").attr("font-size", 68).attr("y", -26).text(medians[i]);
      const tSup = tg.append("text").attr("font-size", 48).attr("y", -54).text(errPlus[i]);
      const tSub = tg.append("text").attr("font-size", 48).attr("y", -8).text(errMinus[i]);
      const wm = tMain.node().getComputedTextLength();
      const we = Math.max(tSup.node().getComputedTextLength(), tSub.node().getComputedTextLength());
      const x0 = P / 2 - (wm + we) / 2;
      tMain.attr("x", x0);
      tSup.attr("x", x0 + wm);
      tSub.attr("x", x0 + wm);
    } else {
      const ys = yS[i];
      const line = d3.line().x(d => xs(d[0])).y(d => ys(d[1])).curve(d3.curveCatmullRomClosed.alpha(0.5));
      body.selectAll("path.ct").data(contours[`${i}-${j}`]).join("path")
        .attr("class", "ct")
        .attr("d", d => line(d.pts))
        .attr("fill", d => fills[d.lvl])
        .attr("stroke", blue).attr("stroke-width", 4).attr("stroke-linejoin", "round");
      body.append("line").attr("x1", xs(truths[j])).attr("x2", xs(truths[j])).attr("y1", 0).attr("y2", P)
        .attr("stroke", orange).attr("stroke-width", 3.8);
      body.append("line").attr("x1", 0).attr("x2", P).attr("y1", ys(truths[i])).attr("y2", ys(truths[i]))
        .attr("stroke", orange).attr("stroke-width", 3.8);
      body.append("rect").attr("x", xs(truths[j]) - 7.5).attr("y", ys(truths[i]) - 7.5)
        .attr("width", 15).attr("height", 15).attr("fill", orange);

      // left ticks
      tickVals[i].forEach((t, k) => {
        g.append("line").attr("x1", -12).attr("x2", 0).attr("y1", ys(t)).attr("y2", ys(t))
          .attr("stroke", "#000").attr("stroke-width", 3);
        if (j === 0) {
          g.append("text").attr("font-family", font).attr("font-size", tickFs)
            .attr("text-anchor", "end")
            .attr("transform", `translate(${-40},${ys(t) + 18}) rotate(-45)`)
            .text(tickLabels[i][k]);
        }
      });
      if (j === 0) {
        const yl = g.append("text").attr("font-family", font).attr("font-size", labelFs)
          .attr("text-anchor", "middle")
          .attr("transform", `translate(${108 - 300},${P / 2}) rotate(-90)`);
        richText(yl, labels[i], labelFs);
      }
    }

    // bottom ticks
    tickVals[j].forEach((t, k) => {
      g.append("line").attr("x1", xs(t)).attr("x2", xs(t)).attr("y1", P).attr("y2", P + 12)
        .attr("stroke", "#000").attr("stroke-width", 3);
      if (i === K - 1) {
        const tx = g.append("text").attr("font-family", font).attr("font-size", tickFs)
          .attr("text-anchor", "middle").text(tickLabels[j][k]);
        const L = tx.node().getComputedTextLength(), hgt = 0.7 * tickFs;
        const mx = xs(t) + 0.354 * hgt, my = P + 34 + 0.354 * L + 0.707 * hgt;
        tx.attr("transform", `translate(${mx},${my}) rotate(-45)`);
      }
    });
    if (i === K - 1) {
      const xl = g.append("text").attr("font-family", font).attr("font-size", labelFs)
        .attr("text-anchor", "middle").attr("x", P / 2).attr("y", 3472 - (Y0 + i * STEP));
      richText(xl, labels[j], labelFs);
    }

    g.append("rect").attr("width", P).attr("height", P)
      .attr("fill", "none").attr("stroke", "#000").attr("stroke-width", 3.2);
  }
}
</script>
</body>
</html>
